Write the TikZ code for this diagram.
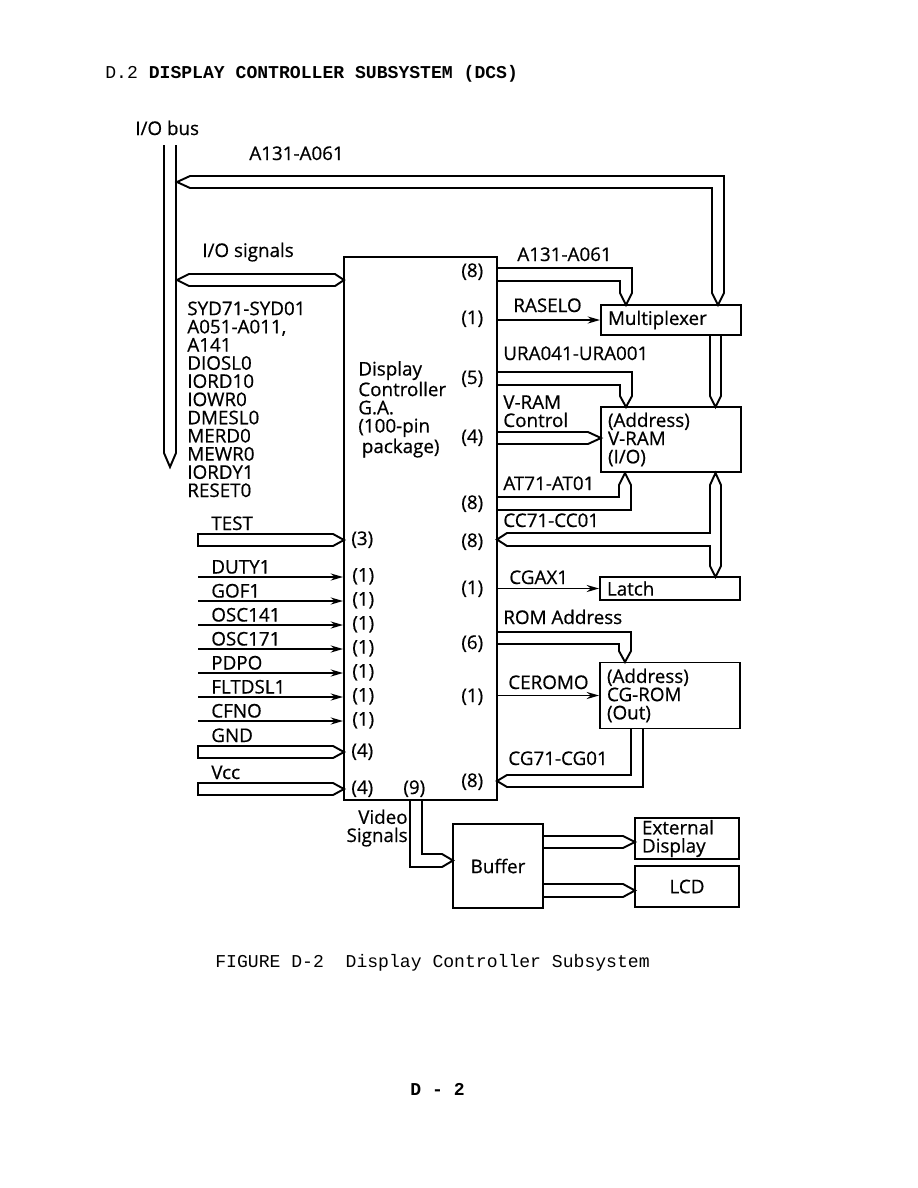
\documentclass[tikz,border=0pt]{standalone}
\usepackage{fontspec}
\setmainfont{Open Sans}[FakeBold=0.6]
\newfontfamily\typefont{Liberation Mono}
\usetikzlibrary{arrows.meta}

\newcommand{\unitpx}{0.02cm}
\newcommand{\sigfont}{\fontsize{10.7}{10.35}\selectfont}
\newcommand{\headfont}{\typefont\fontsize{10.3}{12}\selectfont}

\tikzstyle{block} = [
    rectangle,
    draw=black,
    line width=1.1pt,
    inner sep=0pt
]
\tikzstyle{rblock} = [
    block,
    text width=126*\unitpx,
    inner xsep=7*\unitpx,
    align=left,
    font=\sigfont
]
\tikzstyle{sig} = [font=\sigfont, inner sep=0pt, align=left]
\tikzstyle{cnt} = [font=\sigfont, inner sep=0pt, anchor=base west]
\tikzstyle{arrow} = [line width=1.1pt, -{Stealth[length=7pt,width=4pt]}]
\tikzstyle{bus} = [line width=1.1pt]

\begin{document}
\begin{tikzpicture}[x=\unitpx, y=-\unitpx]

\useasboundingbox (0,0) rectangle (918,1188);

\node (title) [anchor=base west, inner sep=0pt, font=\headfont] at (105,78)
{D.2 \textbf{DISPLAY CONTROLLER SUBSYSTEM (DCS)}};

% blocks
\node (ctl) [block, minimum width=153*\unitpx, minimum height=543*\unitpx] at (420.5,528.5) {};
\node (ctltext) [sig, anchor=base west] at (358,453)
{Display\\Controller\\G.A.\\(100-pin\\\hspace{2pt}package)};
\node (mux) [rblock, minimum height=30*\unitpx] at (671,320) {Multiplexer};
\node (vram) [rblock, minimum height=65*\unitpx] at (671,439.5) {(Address)\\V-RAM\\(I/O)};
\node (latch) [rblock, minimum height=23*\unitpx] at (670,588.5) {Latch};
\node (cgrom) [rblock, minimum height=66*\unitpx] at (670,695.5) {(Address)\\CG-ROM\\(Out)};
\node (buffer) [block, font=\sigfont, minimum width=90*\unitpx, minimum height=84*\unitpx] at (498,866) {Buffer};
\node (extdisp) [rblock, text width=90*\unitpx, minimum height=41*\unitpx] at (687,838.5) {External\\Display};
\node (lcd) [block, font=\sigfont, minimum width=104*\unitpx, minimum height=41*\unitpx] at (687,886.5) {LCD};

% I/O bus
\node (iobus) [sig, anchor=base west] at (135,135) {I/O bus};
\draw [bus] (164,145) -- (164,453) -- (170,467) -- (176,453) -- (176,145);
\node (toplbl) [sig, anchor=base west] at (249,160) {A131-A061};
\draw [bus] (190,176) -- (724,176) -- (724,293) -- (718,305) -- (712,293)
    -- (712,188) -- (190,188) -- (177,182) -- cycle;

\node (iosig) [sig, anchor=base west] at (202,257) {I/O signals};
\draw [bus] (189,274) -- (335,274) -- (344,280) -- (335,286) -- (189,286) -- (177,280) -- cycle;
\node (iolist) [sig, anchor=base west] at (187,497)
{SYD71-SYD01\\A051-A011,\\A141\\DIOSL0\\IORD10\\IOWR0\\DMESL0\\MERD0\\MEWR0\\IORDY1\\RESET0};

% right side of the controller
\node (n8a) [cnt] at (461,277) {(8)};
\node (lblA) [sig, anchor=base west] at (517,261) {A131-A061};
\draw [bus] (497,268) -- (632,268) -- (632,293) -- (626,305) -- (620,293) -- (620,281) -- (497,281);

\node (n1a) [cnt] at (461,324) {(1)};
\node (lblRas) [sig, anchor=base west] at (513,312) {RASELO};
\draw [arrow] (mux.west -| ctl.east) -- (mux.west);
\draw [bus] (710,335) -- (710,396) -- (715.5,407) -- (721,396) -- (721,335);

\node (n5) [cnt] at (461,384) {(5)};
\node (lblUra) [sig, anchor=base west] at (503,360) {URA041-URA001};
\draw [bus] (497,372) -- (632,372) -- (632,396) -- (626,407) -- (620,396) -- (620,385) -- (497,385);

\node (n4) [cnt] at (461,443) {(4)};
\node (lblVc) [sig, anchor=base west] at (503,427) {V-RAM\\Control};
\draw [bus] (497,432) -- (588,432) -- (601,438) -- (588,444) -- (497,444);

\node (n8b) [cnt] at (461,509) {(8)};
\node (lblAt) [sig, anchor=base west] at (503,490) {AT71-AT01};
\draw [bus] (497,497) -- (619,497) -- (619,485) -- (625,473) -- (631,485) -- (631,510) -- (497,510);

\node (n8c) [cnt] at (461,547) {(8)};
\node (lblCc) [sig, anchor=base west] at (503,527) {CC71-CC01};
\draw [bus] (507,533) -- (710,533) -- (710,485) -- (715.5,473) -- (721,485) -- (721,566)
    -- (715.5,577) -- (710,566) -- (710,546) -- (507,546) -- (497,539.5) -- cycle;

\node (n1b) [cnt] at (461,594) {(1)};
\node (lblCg) [sig, anchor=base west] at (509,584) {CGAX1};
\draw [arrow] (latch.west -| ctl.east) -- (latch.west);

\node (n6) [cnt] at (461,649) {(6)};
\node (lblRom) [sig, anchor=base west] at (503,624) {ROM Address};
\draw [bus] (497,632) -- (631,632) -- (631,651) -- (625,662) -- (619,651) -- (619,644) -- (497,644);

\node (n1c) [cnt] at (461,702) {(1)};
\node (lblCe) [sig, anchor=base west] at (508,689) {CEROMO};
\draw [arrow] (cgrom.west -| ctl.east) -- (cgrom.west);

\node (n8d) [cnt] at (461,787) {(8)};
\node (lblCgd) [sig, anchor=base west] at (508,765) {CG71-CG01};
\draw [bus] (631,728) -- (631,775) -- (507,775) -- (497,781) -- (507,787) -- (643,787) -- (643,728);

% left side inputs
\foreach \nm/\y/\n [count=\i] in {TEST/540/3, GND/752/4, Vcc/789/4} {
    \draw [bus] (198,\y-6) -- (333,\y-6) -- (344,\y) -- (333,\y+6) -- (198,\y+6) -- cycle;
    \node (pw\i) [sig, anchor=base west] at (211,\y-10) {\nm};
    \node (pn\i) [cnt] at (351,\y+5) {(\n)};
}
\foreach \nm/\y [count=\i] in {DUTY1/577, GOF1/601, OSC141/625, OSC171/649, PDPO/673, FLTDSL1/697, CFNO/721} {
    \coordinate (in\i) at (198,\y);
    \draw [arrow] (in\i) -- (in\i -| ctl.west);
    \node (il\i) [sig, anchor=base west] at (211,\y-3.5) {\nm};
    \node (ic\i) [cnt] at (352,\y+4.5) {(1)};
}

% video output
\node (n9) [cnt] at (403,794) {(9)};
\node (lblVid) [sig, anchor=base east, align=right] at (408,842) {Video\\Signals};
\draw [bus] (410,800) -- (410,867) -- (442,867) -- (453,860.5) -- (442,854) -- (422,854) -- (422,800);
\draw [bus] (543,836) -- (623,836) -- (635,842) -- (623,848) -- (543,848);
\draw [bus] (543,884) -- (623,884) -- (635,890.5) -- (623,897) -- (543,897);

\node (caption) [anchor=base west, inner sep=0pt, font=\headfont] at (215,967)
{FIGURE D-2\ \ Display Controller Subsystem};
\node (pageno) [anchor=base west, inner sep=0pt, font=\headfont\bfseries] at (410,1095) {D - 2};

\end{tikzpicture}
\end{document}
